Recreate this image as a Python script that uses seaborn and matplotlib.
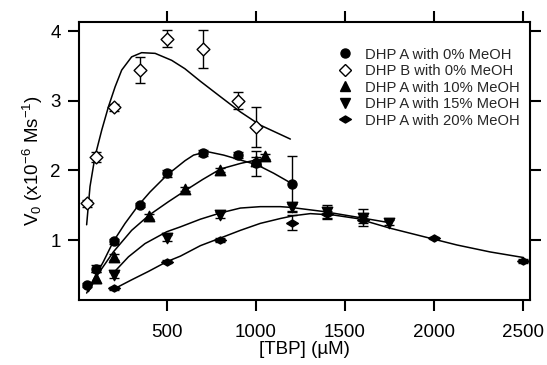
import matplotlib
matplotlib.use("Agg")
import matplotlib.pyplot as plt
import seaborn as sns
import numpy as np
from matplotlib.lines import Line2D

# ---- data points ----
a0_x = [50, 100, 200, 350, 500, 700, 900, 1000, 1200]
a0_y = [0.36, 0.59, 0.98, 1.50, 1.96, 2.25, 2.22, 2.10, 1.81]
a0_e = [0.03, 0.05, 0.04, 0.03, 0.05, 0.05, 0.04, 0.18, 0.40]

b0_x = [50, 100, 200, 350, 500, 700, 900, 1000]
b0_y = [1.53, 2.19, 2.91, 3.44, 3.89, 3.74, 3.00, 2.62]
b0_e = [0.05, 0.07, 0.05, 0.19, 0.12, 0.27, 0.12, 0.29]

a10_x = [100, 200, 400, 600, 800, 1000, 1050]
a10_y = [0.46, 0.76, 1.34, 1.73, 2.01, 2.14, 2.20]
a10_e = [0.08, 0.04, 0.03, 0.03, 0.03, 0.05, 0.03]

a15_x = [200, 500, 800, 1200, 1400, 1600, 1750]
a15_y = [0.50, 1.03, 1.36, 1.47, 1.40, 1.32, 1.25]
a15_e = [0.04, 0.04, 0.04, 0.05, 0.10, 0.12, 0.04]

a20_x = [200, 500, 800, 1200, 1400, 1600, 2000, 2500]
a20_y = [0.31, 0.69, 1.00, 1.25, 1.37, 1.29, 1.03, 0.70]
a20_e = [0.02, 0.02, 0.03, 0.11, 0.05, 0.05, 0.02, 0.03]

# ---- fitted curves ----
cb0_x = [48, 67, 95, 133, 170, 208, 245, 301, 357, 433, 526, 600, 687, 799, 912, 1024, 1193]
cb0_y = [1.22, 1.77, 2.20, 2.58, 2.91, 3.20, 3.44, 3.63, 3.69, 3.68, 3.58, 3.46, 3.28, 3.06, 2.84, 2.65, 2.45]

ca0_x = [48, 86, 142, 198, 264, 339, 404, 498, 601, 649, 725, 818, 912, 1006, 1099, 1202]
ca0_y = [0.24, 0.43, 0.69, 0.98, 1.24, 1.50, 1.69, 1.93, 2.14, 2.22, 2.27, 2.22, 2.15, 2.08, 1.96, 1.81]

ca10_x = [58, 114, 198, 301, 400, 507, 620, 700, 800, 912, 1000, 1050]
ca10_y = [0.26, 0.52, 0.83, 1.14, 1.36, 1.55, 1.74, 1.87, 2.02, 2.10, 2.15, 2.17]

ca15_x = [195, 283, 376, 498, 575, 687, 800, 912, 1024, 1137, 1193, 1380, 1567, 1750]
ca15_y = [0.52, 0.76, 0.95, 1.12, 1.19, 1.30, 1.39, 1.46, 1.48, 1.48, 1.47, 1.41, 1.33, 1.25]

ca20_x = [195, 301, 395, 498, 575, 687, 800, 912, 1024, 1137, 1211, 1305, 1436, 1567, 1755, 1942, 2129, 2316, 2503]
ca20_y = [0.29, 0.43, 0.55, 0.69, 0.77, 0.92, 1.03, 1.14, 1.24, 1.31, 1.35, 1.38, 1.36, 1.31, 1.17, 1.05, 0.93, 0.83, 0.75]

labels = ["DHP A with 0% MeOH", "DHP B with 0% MeOH", "DHP A with 10% MeOH",
          "DHP A with 15% MeOH", "DHP A with 20% MeOH"]
x_ticks = [500, 1000, 1500, 2000, 2500]
y_ticks = [1, 2, 3, 4]

sns.set_theme(style="ticks")
plt.rcParams['font.family'] = ['Liberation Sans', 'DejaVu Sans']
plt.rcParams['mathtext.default'] = 'regular'

fig = plt.figure(figsize=(5.47, 3.65), dpi=100)
ax = fig.add_axes([0.1444, 0.178, 0.8246, 0.7617])

hdiamond = [(-1, 0), (0, 0.6), (1, 0), (0, -0.6), (-1, 0)]

series = [
    (a0_x, a0_y, a0_e, 'o', 'black', 6.5),
    (b0_x, b0_y, b0_e, 'D', 'white', 6.5),
    (a10_x, a10_y, a10_e, '^', 'black', 7.5),
    (a15_x, a15_y, a15_e, 'v', 'black', 7.5),
    (a20_x, a20_y, a20_e, hdiamond, 'black', 8.5),
]
curves = [(cb0_x, cb0_y), (ca0_x, ca0_y), (ca10_x, ca10_y), (ca15_x, ca15_y), (ca20_x, ca20_y)]

for cx, cy in curves:
    sns.lineplot(x=cx, y=cy, ax=ax, color='black', lw=1.1, sort=False, estimator=None, zorder=2)

for x, y, e, m, fc, ms in series:
    ax.errorbar(x, y, yerr=e, fmt='none', ecolor='black', elinewidth=1.0, capsize=3.5,
                capthick=1.0, zorder=3)
    sns.scatterplot(x=x, y=y, ax=ax, marker=m, s=ms**2, color=fc, edgecolor='black',
                    linewidth=1.0, zorder=4)

ax.set_xlim(5, 2540)
ax.set_ylim(0.14, 4.13)
ax.set_xticks(x_ticks)
ax.set_yticks(y_ticks)
ax.tick_params(axis='both', which='major', direction='out', length=8, width=1.5,
               labelsize=13.5, color='black', labelcolor='black',
               top=True, right=True, labeltop=False, labelright=False)
ax.tick_params(axis='x', pad=9)
ax.tick_params(axis='y', pad=5)
for sp in ax.spines.values():
    sp.set_visible(True)
    sp.set_linewidth(1.5)
    sp.set_color('black')

ax.set_xlabel("[TBP] (µM)", fontsize=13.5, color='black', labelpad=0)
ax.set_ylabel(r"V$_0$ (x10$^{-6}$ Ms$^{-1}$)", fontsize=13.5, color='black', labelpad=4)

handles = []
for x, y, e, m, fc, ms in series:
    handles.append(Line2D([], [], ls='none', marker=m, markersize=ms, markerfacecolor=fc,
                          markeredgecolor='black', markeredgewidth=1.0))
ax.legend(handles, labels, loc='upper left', bbox_to_anchor=(0.574, 0.908), frameon=False,
          fontsize=10.6, handlelength=1.0, handletextpad=0.85, labelspacing=0.17,
          borderpad=0, borderaxespad=0)

fig.savefig("out.png", dpi=100)
